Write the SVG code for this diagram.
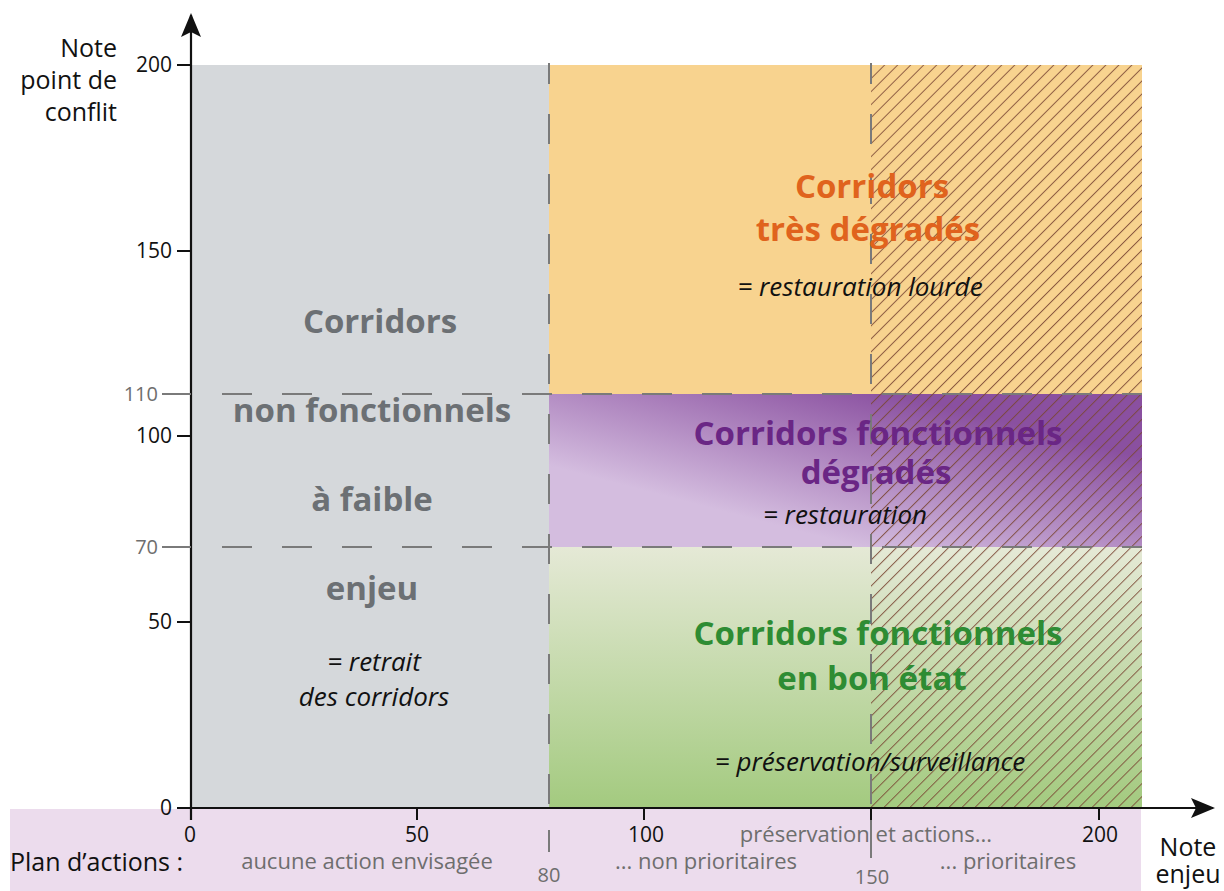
<svg xmlns="http://www.w3.org/2000/svg" width="1224" height="891" viewBox="0 0 1224 891">
  <defs>
    <style>
      .axisnum { font-family: "Open Sans", "Noto Sans", sans-serif; font-size: 21px; fill: #111; }
      .axisnum-grey { font-family: "Open Sans", "Noto Sans", sans-serif; font-size: 20px; fill: #6e6e6e; }
      .axislab { font-family: "Open Sans", "Noto Sans", sans-serif; font-size: 25px; fill: #111; }
      .plan { font-family: "Open Sans", "Noto Sans", sans-serif; font-size: 22px; fill: #6e6e6e; }
      .title { font-family: "Open Sans", "Noto Sans", sans-serif; font-size: 33px; font-weight: bold; text-anchor: middle; }
      .note { font-family: "Open Sans", "Noto Sans", sans-serif; font-size: 26px; font-style: italic; fill: #111; text-anchor: middle; }
      .dash { stroke: #7a7a7a; stroke-width: 2; stroke-dasharray: 30 30; fill: none; }
      .tick { stroke: #111; stroke-width: 2; }
      .tick-grey { stroke: #7a7a7a; stroke-width: 2; }
    </style>
    <linearGradient id="gradPurple" gradientUnits="userSpaceOnUse" x1="900" y1="394" x2="860" y2="547">
      <stop offset="0" stop-color="#8a50a0"/>
      <stop offset="1" stop-color="#d4bddf"/>
    </linearGradient>
    <linearGradient id="gradGreen" gradientUnits="userSpaceOnUse" x1="0" y1="547" x2="0" y2="808">
      <stop offset="0" stop-color="#e5e9d6"/>
      <stop offset="1" stop-color="#a3ca7f"/>
    </linearGradient>
    <pattern id="hatch" patternUnits="userSpaceOnUse" width="9.2" height="9.2" patternTransform="translate(871 65) rotate(45)">
      <line x1="0" y1="-1" x2="0" y2="11" stroke="#7a4634" stroke-opacity="0.85" stroke-width="2"/>
    </pattern>
    <marker id="arrow" viewBox="0 0 24 20" refX="22" refY="10" markerWidth="24" markerHeight="20" markerUnits="userSpaceOnUse" orient="auto">
      <path d="M0,0 L24,10 L0,20 L5,10 Z" fill="#111"/>
    </marker>
  </defs>

  <!-- background -->
  <rect x="0" y="0" width="1224" height="891" fill="#ffffff"/>

  <!-- action plan strip under the x axis -->
  <rect id="plan-strip" x="10" y="809" width="1131" height="82" fill="#ecdced"/>

  <!-- zone: non-functional corridors (low stake) -->
  <g id="zone-grey">
    <rect x="191" y="65" width="358" height="743" fill="#d5d8db"/>
  </g>

  <!-- zone: heavily degraded corridors -->
  <g id="zone-orange">
    <rect x="549" y="65" width="593" height="329" fill="#f8d38f"/>
  </g>

  <!-- zone: degraded functional corridors -->
  <g id="zone-purple">
    <rect x="549" y="394" width="593" height="153" fill="url(#gradPurple)"/>
  </g>

  <!-- zone: functional corridors in good state -->
  <g id="zone-green">
    <rect x="549" y="547" width="593" height="261" fill="url(#gradGreen)"/>
  </g>

  <!-- priority band (stake above 150) -->
  <rect id="priority-hatch" x="871" y="65" width="271" height="743" fill="url(#hatch)"/>

  <!-- threshold lines -->
  <g id="thresholds">
    <line class="dash" x1="222" y1="394" x2="1142" y2="394"/>
    <line class="dash" x1="222" y1="547" x2="1142" y2="547"/>
    <line class="dash" x1="549" y1="63" x2="549" y2="808" stroke-dashoffset="9"/>
    <line class="dash" x1="871" y1="63" x2="871" y2="808" stroke-dashoffset="9"/>
  </g>

  <!-- zone labels -->
  <g id="label-grey">
    <text class="title" x="380" y="333" fill="#6c7074">Corridors</text>
    <text class="title" x="372" y="422" fill="#6c7074">non fonctionnels</text>
    <text class="title" x="372" y="511" fill="#6c7074">à faible</text>
    <text class="title" x="372" y="600" fill="#6c7074">enjeu</text>
    <text class="note" x="374" y="671">= retrait</text>
    <text class="note" x="374" y="706">des corridors</text>
  </g>

  <g id="label-orange">
    <text class="title" x="872" y="198" fill="#e0631d">Corridors</text>
    <text class="title" x="868" y="241" fill="#e0631d">très dégradés</text>
    <text class="note" x="860" y="296">= restauration lourde</text>
  </g>

  <g id="label-purple">
    <text class="title" x="878" y="445" fill="#6a2685">Corridors fonctionnels</text>
    <text class="title" x="876" y="484" fill="#6a2685">dégradés</text>
    <text class="note" x="845" y="524">= restauration</text>
  </g>

  <g id="label-green">
    <text class="title" x="878" y="645" fill="#2e8c33">Corridors fonctionnels</text>
    <text class="title" x="872" y="690" fill="#2e8c33">en bon état</text>
    <text class="note" x="870" y="771">= préservation/surveillance</text>
  </g>

  <!-- axes -->
  <g id="axes">
    <line x1="191" y1="820" x2="191" y2="15" stroke="#111" stroke-width="2.2" marker-end="url(#arrow)"/>
    <line x1="177" y1="808" x2="1213" y2="808" stroke="#111" stroke-width="2.2" marker-end="url(#arrow)"/>

    <!-- y ticks -->
    <line class="tick" x1="177" y1="65" x2="191" y2="65"/>
    <line class="tick" x1="177" y1="251" x2="191" y2="251"/>
    <line class="tick" x1="177" y1="436" x2="191" y2="436"/>
    <line class="tick" x1="177" y1="622" x2="191" y2="622"/>
    <line class="tick-grey" x1="162" y1="394" x2="191" y2="394"/>
    <line class="tick-grey" x1="162" y1="547" x2="191" y2="547"/>

    <!-- x ticks -->
    <line class="tick" x1="417" y1="808" x2="417" y2="820"/>
    <line class="tick" x1="644" y1="808" x2="644" y2="820"/>
    <line class="tick" x1="871" y1="808" x2="871" y2="820"/>
    <line class="tick" x1="1099" y1="808" x2="1099" y2="820"/>
    <line class="tick-grey" x1="549" y1="830" x2="549" y2="852"/>
    <line class="tick-grey" x1="871" y1="820" x2="871" y2="858"/>
  </g>

  <!-- axis values -->
  <g id="y-values" text-anchor="end">
    <text class="axisnum" x="172" y="72">200</text>
    <text class="axisnum" x="172" y="258">150</text>
    <text class="axisnum" x="172" y="443">100</text>
    <text class="axisnum" x="172" y="629">50</text>
    <text class="axisnum" x="172" y="815">0</text>
    <text class="axisnum-grey" x="158" y="401">110</text>
    <text class="axisnum-grey" x="158" y="554">70</text>
  </g>

  <g id="x-values" text-anchor="middle">
    <text class="axisnum" x="190" y="842">0</text>
    <text class="axisnum" x="417" y="842">50</text>
    <text class="axisnum" x="646" y="842">100</text>
    <text class="axisnum" x="1100" y="842">200</text>
    <text class="axisnum-grey" x="549" y="882">80</text>
    <text class="axisnum-grey" x="872" y="884">150</text>
  </g>

  <!-- axis titles -->
  <g id="y-title" text-anchor="end">
    <text class="axislab" x="117" y="57">Note</text>
    <text class="axislab" x="117" y="89">point de</text>
    <text class="axislab" x="117" y="121">conflit</text>
  </g>
  <g id="x-title" text-anchor="middle">
    <text class="axislab" x="1188" y="856">Note</text>
    <text class="axislab" x="1188" y="883">enjeu</text>
  </g>

  <!-- action plan row -->
  <g id="action-plan">
    <text class="axislab" x="10" y="871" font-size="26">Plan d’actions :</text>
    <text class="plan" x="367" y="869" text-anchor="middle">aucune action envisagée</text>
    <text class="plan" x="866" y="842" text-anchor="middle">préservation et actions...</text>
    <text class="plan" x="706" y="869" text-anchor="middle">... non prioritaires</text>
    <text class="plan" x="1008" y="869" text-anchor="middle">... prioritaires</text>
  </g>
</svg>
